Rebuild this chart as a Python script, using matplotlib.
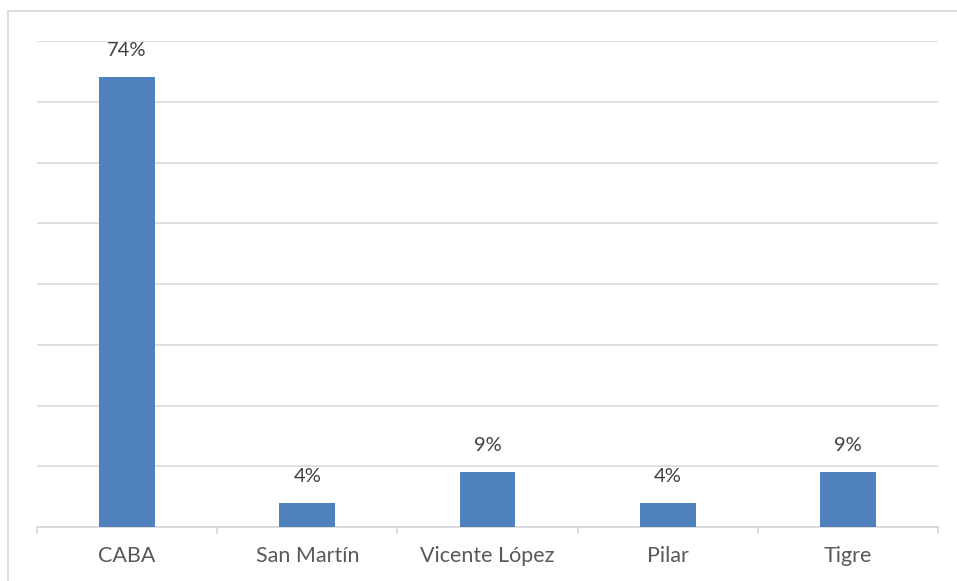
import matplotlib
matplotlib.use("Agg")
import matplotlib.pyplot as plt
from matplotlib.patches import Rectangle
import numpy as np

categories = ["CABA", "San Martín", "Vicente López", "Pilar", "Tigre"]
shares = [74, 4, 9, 4, 9]

W, H = 957, 581
DPI = 100
plt.rcParams["font.family"] = ["Lato", "DejaVu Sans"]

fig = plt.figure(figsize=(W / DPI, H / DPI), dpi=DPI)
fig.patch.set_facecolor("white")

# light frame around the chart area
fig.patches.append(Rectangle((8 / W, -0.1), 1.2, (1 - 11 / H) + 0.1,
                             transform=fig.transFigure, fill=False,
                             edgecolor="#d9d9d9", linewidth=1.3))

left, right = 37 / W, 938 / W
bottom, top = 1 - 527 / H, 1 - 41 / H
ax = fig.add_axes([left, bottom, right - left, top - bottom])

x = np.arange(len(categories))
bars = ax.bar(x, shares, width=0.31, color="#4f81bd", zorder=3)

ax.set_xlim(-0.5, len(categories) - 0.5)
ax.set_ylim(0, 80)
ax.set_yticks(np.arange(0, 81, 10))
ax.yaxis.grid(True, color="#d9d9d9", linewidth=1.2)
ax.set_axisbelow(True)
ax.tick_params(axis="y", length=0, labelleft=False)

ax.set_xticks(x)
ax.set_xticklabels(categories, fontsize=15.5, color="#595959")
ax.tick_params(axis="x", which="major", length=0, pad=14)
ax.set_xticks(np.arange(-0.5, len(categories)), minor=True)
ax.tick_params(axis="x", which="minor", length=5, color="#d9d9d9", width=1.3)

for s in ["left", "right", "top"]:
    ax.spines[s].set_visible(False)
ax.spines["bottom"].set_color("#d9d9d9")
ax.spines["bottom"].set_linewidth(1.3)

for xi, v in zip(x, shares):
    ax.annotate(f"{v}%", (xi, v), xytext=(0, 13), textcoords="offset points",
                ha="center", va="bottom", fontsize=14.5, color="#404040")

fig.savefig("out.png", dpi=DPI, facecolor="white")
